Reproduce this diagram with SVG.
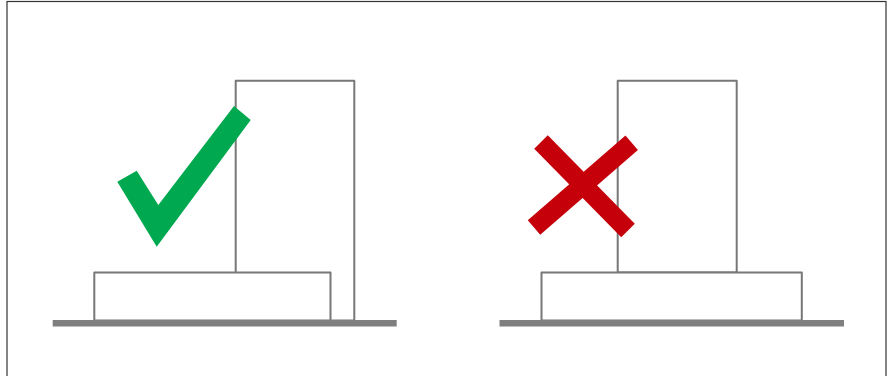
<svg xmlns="http://www.w3.org/2000/svg" width="889" height="376" viewBox="0 0 889 376">
  <style>
    .outline { fill: #ffffff; stroke: #777777; stroke-width: 2; stroke-linejoin: round; }
    .ground { fill: #7f7f7f; }
    .ok { fill: #00A84F; }
    .bad { stroke: #C5000A; stroke-width: 19; stroke-linecap: butt; fill: none; }
  </style>
  <rect x="0" y="0" width="889" height="376" fill="#ffffff"/>
  <rect x="7" y="1.5" width="879" height="400" fill="none" stroke="#333333" stroke-width="1.2"/>

  <g id="correct">
    <rect id="correct-column" class="outline" x="235.7" y="80.7" width="118.6" height="239.8"/>
    <rect id="correct-base" class="outline" x="94.3" y="272.5" width="236.2" height="48"/>
    <rect id="correct-ground" class="ground" x="52.7" y="320" width="344" height="6.5"/>
    <polygon id="check" class="ok" points="117.3,181.7 136.7,170.7 158.3,205 234,106 250.7,120 156.7,246.7"/>
  </g>

  <g id="incorrect">
    <rect id="incorrect-column" class="outline" x="617.7" y="80.7" width="119" height="191.8"/>
    <rect id="incorrect-base" class="outline" x="541.5" y="272.5" width="260.3" height="48"/>
    <rect id="incorrect-ground" class="ground" x="499.5" y="320" width="344.5" height="6.5"/>
    <g id="cross">
      <line class="bad" x1="541" y1="142" x2="628" y2="230.5"/>
      <line class="bad" x1="631.7" y1="142.8" x2="534" y2="227.5"/>
    </g>
  </g>

  <g id="connectors"></g>
</svg>
